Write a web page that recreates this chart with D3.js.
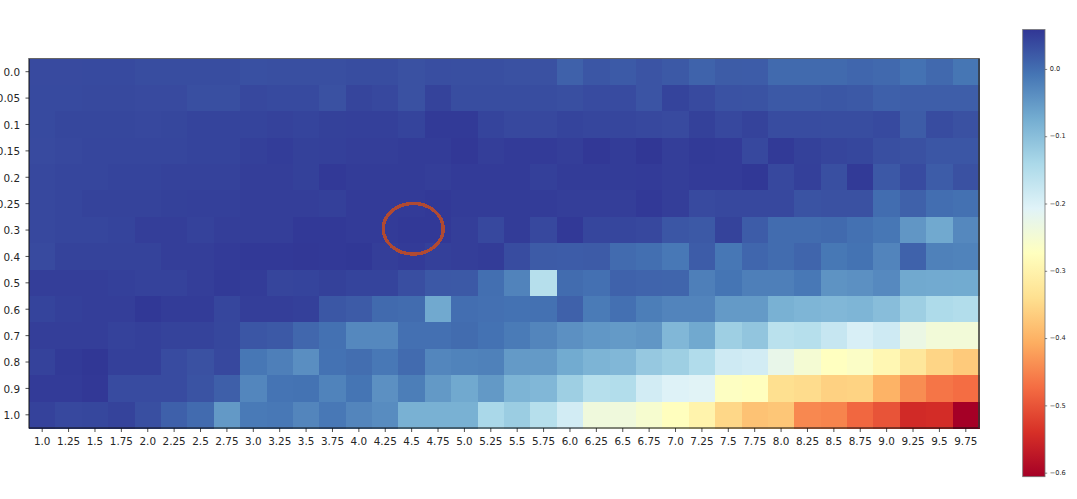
<!DOCTYPE html>
<html><head><meta charset="utf-8">
<script src="https://cdn.jsdelivr.net/npm/d3@7"></script>
<style>html,body{margin:0;padding:0;background:#fff;overflow:hidden}svg{display:block}
text{font-family:"DejaVu Sans";fill:#262626}</style></head><body>
<svg id="c" width="1077" height="499"></svg>
<script>
const xLabels=["1.0","1.25","1.5","1.75","2.0","2.25","2.5","2.75","3.0","3.25","3.5","3.75","4.0","4.25","4.5","4.75","5.0","5.25","5.5","5.75","6.0","6.25","6.5","6.75","7.0","7.25","7.5","7.75","8.0","8.25","8.5","8.75","9.0","9.25","9.5","9.75"];
const yLabels=["0.0","0.05","0.1","0.15","0.2","0.25","0.3","0.4","0.5","0.6","0.7","0.8","0.9","1.0"];
const row00=[.037,.037,.038,.038,.034,.034,.034,.034,.031,.032,.032,.032,.034,.034,.03,.033,.032,.032,.03,.03,.013,.025,.021,.027,.022,.011,.019,.018,.004,.004,.004,.008,.0045,-.005,.0045,-.009];
const row005=[.038,.038,.039,.039,.037,.037,.032,.032,.04,.038,.038,.03,.043,.04,.03,.045,.034,.034,.034,.034,.032,.036,.036,.027,.044,.037,.029,.028,.022,.022,.024,.022,.014,.016,.016,.016];
const row01=[.038,.041,.041,.041,.04,.041,.044,.044,.044,.046,.044,.047,.048,.048,.044,.054,.054,.044,.04,.04,.044,.042,.042,.04,.037,.047,.04,.045,.035,.035,.034,.034,.038,.019,.035,.03];
const row015=[.037,.04,.042,.042,.042,.042,.044,.044,.048,.051,.047,.048,.05,.05,.052,.052,.056,.05,.053,.053,.05,.056,.052,.058,.05,.054,.053,.04,.054,.047,.043,.041,.032,.03,.025,.025];
const row02=[.04,.042,.042,.044,.044,.046,.046,.046,.05,.05,.047,.055,.052,.052,.052,.05,.053,.053,.053,.048,.052,.052,.052,.053,.05,.053,.053,.057,.04,.048,.032,.054,.023,.036,.018,.03];
const row025=[.04,.042,.045,.045,.045,.047,.048,.048,.05,.05,.05,.048,.053,.053,.053,.055,.052,.052,.052,.052,.05,.05,.05,.055,.05,.037,.04,.04,.04,.028,.03,.03,.001,.013,-.001,-.004];
const row03=[.04,.042,.042,.044,.05,.05,.046,.05,.05,.05,.055,.055,.053,.053,.055,.055,.05,.04,.052,.04,.055,.042,.042,.04,.025,.022,.045,.018,.002,.002,.004,-.004,-.01,-.047,-.07,-.03];
const row04=[.037,.045,.045,.045,.045,.05,.05,.053,.055,.055,.056,.055,.057,.05,.053,.048,.05,.052,.035,.02,.018,.02,.003,-.002,-.012,.018,-.01,.008,.002,.009,-.011,-.006,-.026,.012,-.022,-.024];
const row05=[.05,.05,.05,.048,.046,.046,.05,.054,.052,.043,.044,.047,.044,.044,.033,.023,.022,-.002,-.025,-.155,.002,-.003,.012,.01,.009,-.02,-.008,-.02,-.02,-.012,-.043,-.04,-.032,-.07,-.071,-.072];
const row06=[.044,.048,.05,.05,.057,.052,.052,.042,.05,.05,.048,.024,.02,.004,.002,-.07,-.001,-.003,-.005,-.004,.013,-.015,-.003,-.018,-.026,-.026,-.052,-.052,-.08,-.087,-.09,-.087,-.098,-.125,-.145,-.15];
const row07=[.05,.05,.05,.046,.048,.045,.045,.041,.025,.022,.007,-.004,-.03,-.03,-.003,-.003,.002,-.005,-.015,-.027,-.04,-.048,-.052,-.047,-.09,-.07,-.125,-.11,-.16,-.155,-.175,-.197,-.185,-.23,-.245,-.245];
const row08=[.046,.054,.058,.048,.048,.036,.03,.04,-.01,-.02,-.038,-.005,0,-.012,.003,-.028,-.024,-.022,-.052,-.052,-.072,-.085,-.09,-.115,-.125,-.148,-.185,-.19,-.225,-.25,-.273,-.265,-.29,-.325,-.355,-.37];
const row09=[.053,.053,.056,.036,.036,.036,.028,.015,-.028,-.007,-.006,-.024,-.008,-.04,-.018,-.05,-.07,-.05,-.085,-.09,-.125,-.155,-.15,-.19,-.205,-.21,-.27,-.275,-.34,-.345,-.36,-.358,-.4,-.44,-.465,-.473];
const row10=[.046,.04,.041,.045,.032,.014,.003,-.05,-.014,-.012,-.027,-.012,-.027,-.035,-.08,-.08,-.08,-.14,-.122,-.155,-.19,-.24,-.24,-.255,-.275,-.3,-.352,-.38,-.375,-.445,-.45,-.48,-.5,-.548,-.545,-.606];
const rows=[row00,row005,row01,row015,row02,row025,row03,row04,row05,row06,row07,row08,row09,row10];
const cbTicks=[0,-0.1,-0.2,-0.3,-0.4,-0.5,-0.6];
const vMin=-0.606,vMax=0.0586;
const rdylbu=["#a50026","#d73027","#f46d43","#fdae61","#fee090","#ffffbf","#e0f3f8","#abd9e9","#74add1","#4575b4","#313695"];
const color=d3.scaleLinear().domain(rdylbu.map((_,i)=>vMin+(vMax-vMin)*i/10)).range(rdylbu).interpolate(d3.interpolateRgb).clamp(true);

const L=29,R=979,T=58.5,B=428;
const svg=d3.select("#c");
const x=d3.scaleBand().domain(xLabels).range([L,R]);
const y=d3.scaleBand().domain(yLabels).range([T,B]);
svg.append("g").attr("shape-rendering","crispEdges").selectAll("g").data(rows).join("g").each(function(r,j){
  d3.select(this).selectAll("rect").data(r).join("rect")
   .attr("x",(d,i)=>x(xLabels[i])).attr("y",y(yLabels[j]))
   .attr("width",x.bandwidth()+.5).attr("height",y.bandwidth()+.5)
   .attr("fill",d=>color(d));
});
const ax=svg.append("g").attr("transform",`translate(0,${B})`).call(d3.axisBottom(x).tickSize(4).tickPadding(5.5));
const ay=svg.append("g").attr("transform",`translate(${L},0)`).call(d3.axisLeft(y).tickSize(3.5).tickPadding(5.5));
[ax,ay].forEach(a=>{a.select(".domain").remove();a.selectAll("text").attr("font-size",10.4).attr("font-family","DejaVu Sans").attr("fill","#262626");a.selectAll("line").attr("stroke","#222").attr("stroke-width",.8);});
ay.selectAll("text").attr("dy","0.42em");
svg.append("rect").attr("x",L).attr("y",T).attr("width",R-L).attr("height",B-T).attr("fill","none").attr("stroke","#111").attr("stroke-width",1);
svg.append("line").attr("x1",L).attr("x2",R).attr("y1",T).attr("y2",T).attr("stroke","#666").attr("stroke-width",1);
svg.append("line").attr("x1",R).attr("x2",R).attr("y1",T).attr("y2",B).attr("stroke","#444").attr("stroke-width",1);

// annotation ring round the cell (4.5, 0.3)
svg.append("ellipse").attr("cx",x("4.5")+x.bandwidth()/2+1.6).attr("cy",y("0.3")+y.bandwidth()/2-1.3)
 .attr("rx",30).attr("ry",25.3).attr("fill","none").attr("stroke","#b04a32").attr("stroke-width",3.4).attr("shape-rendering","crispEdges");

// colourbar
const cbL=1022.7,cbR=1045,cbT=29.5,cbB=476.7;
const cy=d3.scaleLinear().domain([vMin,vMax]).range([cbB,cbT]);
const defs=svg.append("defs");
const g=defs.append("linearGradient").attr("id","cb").attr("x1",0).attr("x2",0).attr("y1",1).attr("y2",0);
rdylbu.forEach((c,i)=>g.append("stop").attr("offset",i/10).attr("stop-color",c));
svg.append("rect").attr("x",cbL).attr("y",cbT).attr("width",cbR-cbL).attr("height",cbB-cbT).attr("fill","url(#cb)").attr("stroke","#777").attr("stroke-width",.8);
const ac=svg.append("g").attr("transform",`translate(${cbR},0)`).call(d3.axisRight(cy).tickValues(cbTicks).tickSize(2.2).tickPadding(2.5).tickFormat(d=>d3.format(".1f")(d).replace("-","−")));
ac.select(".domain").remove();
ac.selectAll("text").attr("font-size",6.6).attr("font-family","DejaVu Sans").attr("fill","#262626").attr("dy","0.25em");
ac.selectAll("line").attr("stroke","#333").attr("stroke-width",.6);
</script></body></html>
